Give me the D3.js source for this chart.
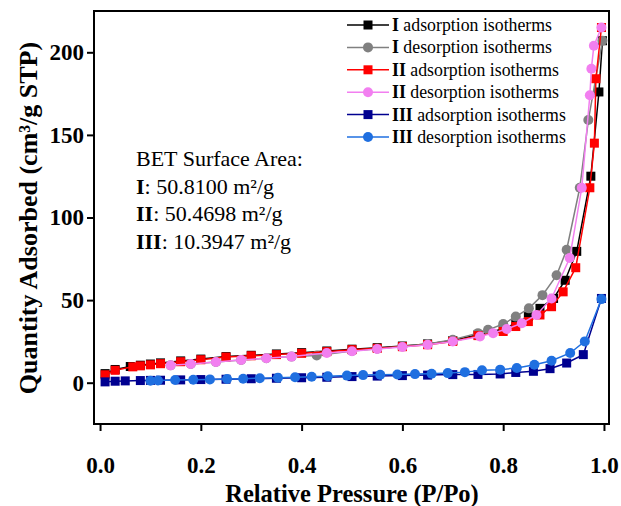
<!DOCTYPE html>
<html>
<head>
<meta charset="utf-8">
<script src="https://cdn.jsdelivr.net/npm/d3@7"></script>
<style>
  body { margin: 0; background: #fff; }
  svg { display: block; }
</style>
</head>
<body>
<svg id="chart" width="621" height="506"></svg>
<script>
// relative pressure (P/Po) and quantity adsorbed
const pIAds = [0.01, 0.03, 0.06, 0.08, 0.10, 0.12, 0.16, 0.20, 0.25, 0.30, 0.35, 0.40, 0.45, 0.50, 0.55, 0.60, 0.65, 0.70, 0.75, 0.80, 0.825, 0.85, 0.873, 0.90, 0.923, 0.946, 0.974, 0.99, 0.997];
const vIAds = [5.5, 8, 9.8, 10.6, 11.3, 12, 13.2, 14.3, 15.8, 16.6, 17.4, 18.2, 19.2, 20.3, 21.2, 22.2, 23.5, 25.5, 29, 32.5, 36, 40, 45, 51, 62, 79.5, 125, 176, 207];

const pIDes = [0.997, 0.969, 0.952, 0.926, 0.906, 0.878, 0.851, 0.825, 0.80, 0.77, 0.75, 0.70, 0.65, 0.60, 0.55, 0.50, 0.43, 0.38, 0.33, 0.28, 0.23, 0.18, 0.14];
const vIDes = [207, 159, 118, 80.5, 65, 53, 45, 40, 35.5, 32, 30, 26, 23.5, 22, 20.6, 19.2, 16.5, 15.8, 14.8, 13.8, 12.5, 11.3, 10.5];

const pIIAds = [0.01, 0.03, 0.065, 0.08, 0.10, 0.12, 0.16, 0.20, 0.25, 0.30, 0.35, 0.40, 0.45, 0.50, 0.55, 0.60, 0.65, 0.70, 0.75, 0.80, 0.825, 0.85, 0.873, 0.896, 0.919, 0.944, 0.972, 0.981, 0.984, 0.995];
const vIIAds = [4.8, 7.5, 9.6, 10.2, 10.8, 11.5, 12.7, 13.9, 15.5, 16.3, 17, 17.8, 18.8, 20, 20.8, 21.8, 23, 25, 28.5, 31, 34, 37, 41, 46, 55, 69.6, 118, 145, 184, 215];

const pIIDes = [0.995, 0.98, 0.975, 0.972, 0.956, 0.932, 0.896, 0.866, 0.837, 0.807, 0.78, 0.754, 0.70, 0.65, 0.60, 0.55, 0.50, 0.45, 0.38, 0.33, 0.28, 0.23, 0.18, 0.14];
const vIIDes = [215, 204, 190, 174, 118, 75.5, 51, 41, 36, 32.5, 30, 28, 25, 23, 21.6, 20.4, 19, 18, 15.8, 14.8, 13.8, 12.5, 11.3, 10.5];

const pIIIAds = [0.01, 0.03, 0.05, 0.08, 0.10, 0.12, 0.16, 0.20, 0.25, 0.30, 0.35, 0.40, 0.45, 0.50, 0.55, 0.60, 0.65, 0.70, 0.75, 0.794, 0.825, 0.86, 0.893, 0.926, 0.959, 0.995];
const vIIIAds = [0.5, 0.9, 1.1, 1.3, 1.4, 1.5, 1.7, 1.9, 2.1, 2.4, 2.7, 3.0, 3.3, 3.7, 4.0, 4.3, 4.6, 4.9, 5.0, 5.3, 6.2, 6.9, 8.5, 11.9, 17, 51];

const pIIIDes = [0.995, 0.962, 0.933, 0.896, 0.862, 0.827, 0.794, 0.758, 0.724, 0.69, 0.658, 0.625, 0.59, 0.556, 0.522, 0.49, 0.452, 0.42, 0.387, 0.353, 0.317, 0.284, 0.252, 0.218, 0.185, 0.149, 0.115, 0.10];
const vIIIDes = [50.6, 25, 18, 13.3, 10.9, 8.9, 7.9, 7.5, 6.4, 5.8, 5.4, 5.2, 5.0, 4.8, 4.6, 4.3, 3.9, 3.6, 3.3, 3.0, 2.7, 2.4, 2.2, 2.0, 1.8, 1.6, 1.3, 1.2];

const seriesNames = ['adsorption isotherms', 'desorption isotherms', 'adsorption isotherms', 'desorption isotherms', 'adsorption isotherms', 'desorption isotherms'];
const sampleNames = ['I', 'I', 'II', 'II', 'III', 'III'];
const xTicks = [0, 0.2, 0.4, 0.6, 0.8, 1.0];
const yTicks = [0, 50, 100, 150, 200];
const bet = [['I', '50.8100'], ['II', '50.4698'], ['III', '10.3947']];

const series = [
    {p: pIAds, v: vIAds, color: '#000000', shape: 'square'},
    {p: pIDes, v: vIDes, color: '#808080', shape: 'circle'},
    {p: pIIAds, v: vIIAds, color: '#ff0000', shape: 'square'},
    {p: pIIDes, v: vIIDes, color: '#f27ff0', shape: 'circle'},
    {p: pIIIAds, v: vIIIAds, color: '#000090', shape: 'square'},
    {p: pIIIDes, v: vIIIDes, color: '#1f6fe0', shape: 'circle'}
];

const font = '"Times New Roman", "Liberation Serif", serif';
const margin = {left: 94, top: 11, right: 12, bottom: 82};
const width = 621 - margin.left - margin.right;
const height = 506 - margin.top - margin.bottom;

const svg = d3.select('#chart');
const g = svg.append('g').attr('transform', `translate(${margin.left},${margin.top})`);

const x = d3.scaleLinear().domain([-0.012, 1.01]).range([0, width]);
const y = d3.scaleLinear().domain([-25, 225]).range([height, 0]);

// axes
const xAxis = g.append('g')
    .attr('transform', `translate(0,${height})`)
    .call(d3.axisBottom(x).tickValues(xTicks).tickFormat(d3.format('.1f')).tickSize(7).tickSizeOuter(0).tickPadding(26));
const yAxis = g.append('g')
    .call(d3.axisLeft(y).tickValues(yTicks).tickSize(7).tickSizeOuter(0).tickPadding(3));

[xAxis, yAxis].forEach(a => {
    a.select('.domain').remove();
    a.selectAll('line').attr('stroke', '#000').attr('stroke-width', 2);
    a.selectAll('text')
        .attr('fill', '#000')
        .style('font-family', font)
        .style('font-size', '23px')
        .style('font-weight', 'bold');
});

// frame
g.append('rect')
    .attr('width', width)
    .attr('height', height)
    .attr('fill', 'none')
    .attr('stroke', '#000')
    .attr('stroke-width', 2);

const plot = g.append('g');
const line = d3.line().x(d => x(d[0])).y(d => y(d[1]));

function marker (sel, shape, color, cx, cy) {
    if (shape === 'square') {
        sel.append('rect')
            .attr('x', cx - 4.5).attr('y', cy - 4.5)
            .attr('width', 9).attr('height', 9)
            .attr('fill', color);
    } else {
        sel.append('circle')
            .attr('cx', cx).attr('cy', cy).attr('r', 5)
            .attr('fill', color);
    }
}

series.forEach(s => {
    const pts = s.p.map((p, i) => [p, s.v[i]]);
    const sg = plot.append('g');
    sg.append('path')
        .attr('d', line(pts))
        .attr('fill', 'none')
        .attr('stroke', s.color)
        .attr('stroke-width', 1.5);
    pts.forEach(d => marker(sg, s.shape, s.color, x(d[0]), y(d[1])));
});

// legend
const legend = g.append('g').attr('transform', `translate(${253},${14})`);
series.forEach((s, i) => {
    const row = legend.append('g').attr('transform', `translate(0,${i * 22.4})`);
    row.append('line')
        .attr('x1', 0).attr('x2', 42)
        .attr('stroke', s.color).attr('stroke-width', 1.5);
    marker(row, s.shape, s.color, 21, 0);
    const t = row.append('text')
        .attr('x', 45).attr('y', 6)
        .style('font-family', font)
        .style('font-size', '17.8px')
        .attr('fill', '#000');
    t.append('tspan').style('font-weight', 'bold').text(sampleNames[i]);
    t.append('tspan').text(' ' + seriesNames[i]);
});

// BET annotation
const note = g.append('g').attr('transform', `translate(42,155)`)
    .style('font-family', font)
    .style('font-size', '22px')
    .attr('fill', '#000');
note.append('text').attr('y', 0).text('BET Surface Area:');
bet.forEach((b, i) => {
    const t = note.append('text').attr('y', 27.5 * (i + 1));
    t.append('tspan').style('font-weight', 'bold').text(b[0]);
    t.append('tspan').text(`: ${b[1]} m²/g`);
});

// axis titles
svg.append('text')
    .attr('x', margin.left + x(0.5))
    .attr('y', 502)
    .attr('text-anchor', 'middle')
    .style('font-family', font)
    .style('font-size', '24.5px')
    .style('font-weight', 'bold')
    .text('Relative Pressure (P/Po)');

svg.append('text')
    .attr('transform', `translate(37,218) rotate(-90)`)
    .attr('text-anchor', 'middle')
    .style('font-family', font)
    .style('font-size', '26px')
    .style('font-weight', 'bold')
    .text('Quantity Adsorbed (cm³/g STP)');
</script>
</body>
</html>
